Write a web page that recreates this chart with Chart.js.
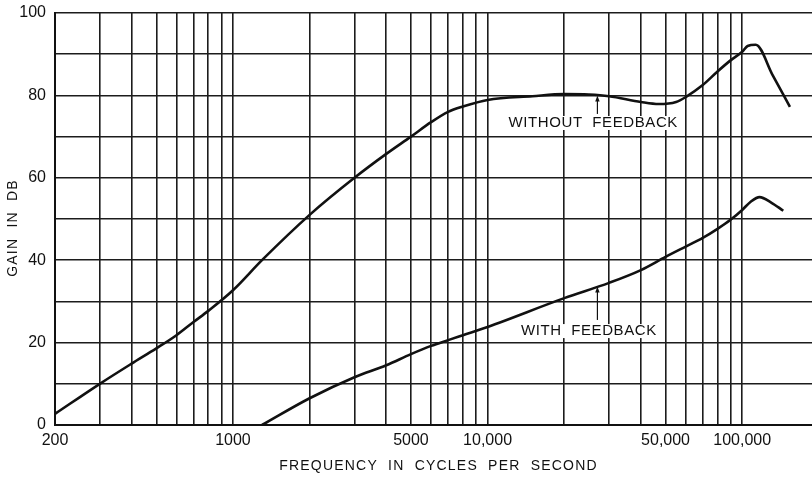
<!DOCTYPE html>
<html>
<head>
<meta charset="utf-8">
<script src="https://cdn.jsdelivr.net/npm/chart.js@4/dist/chart.umd.min.js"></script>
<style>
  html, body { margin: 0; padding: 0; background: #fff; }
  canvas { display: block; }
</style>
</head>
<body>
<canvas id="gainChart" width="812" height="482"></canvas>
<script>
// ===== DATA =====
// frequency (c/s) vs gain (db)
const noFbFreq = [200, 300, 400, 500, 600, 700, 800, 1000, 1300, 2000, 3000, 4000, 5000, 6000, 7000, 8000,
                  10000, 15000, 20000, 25000, 30000, 40000, 47000, 55000, 60000, 70000, 80000, 90000,
                  100000, 105000, 113000, 132000, 154000];
const noFbGain = [2.7, 10, 14.9, 18.6, 21.8, 25, 27.7, 32.7, 40, 51, 60, 65.8, 70, 73.5, 76, 77.3,
                  78.9, 79.8, 80.3, 80.2, 79.8, 78.4, 77.9, 78.4, 79.6, 82.5, 85.8, 88.5,
                  90.6, 92.0, 92.3, 84.8, 77.2];

const fbFreq = [1300, 2000, 3000, 4000, 5000, 6000, 7000, 8000, 10000, 20000, 30000, 40000,
                50000, 60000, 70000, 80000, 90000, 100000, 108000, 117000, 130000, 145000];
const fbGain = [0, 6.5, 11.6, 14.5, 17.2, 19.2, 20.6, 21.8, 23.8, 30.8, 34.5, 37.6,
                40.8, 43.3, 45.4, 47.6, 49.8, 52.2, 54.2, 55.3, 54.0, 52];

// vertical rulings of the log paper
const xGridValues = [200, 300, 400, 500, 600, 700, 800, 900, 1000, 2000, 3000, 4000, 5000, 6000, 7000,
                     8000, 9000, 10000, 20000, 30000, 40000, 50000, 60000, 70000, 80000, 90000, 100000];
const xLabelValues = [200, 1000, 5000, 10000, 50000, 100000];
const xLabelTexts = ['200', '1000', '5000', '10,000', '50,000', '100,000'];

const toPoints = (xs, ys) => xs.map((x, i) => ({ x: x, y: ys[i] }));

const FONT = '"Liberation Sans", Arial, sans-serif';
const INK = '#111';

// ===== TEXT ON THE PAPER (curve labels, arrows, axis titles) =====
const paperText = {
    id: 'paperText',
    afterDraw(chart) {
        const ctx = chart.ctx;
        const xs = chart.scales.x, ys = chart.scales.y;
        const area = chart.chartArea;
        const items = [
            { text: 'WITHOUT  FEEDBACK', fx: 26000, gy: 73.3, ax: 27000, ay1: 75.5, ay2: 80.0 },
            { text: 'WITH  FEEDBACK', fx: 25000, gy: 22.8, ax: 27000, ay1: 25.5, ay2: 33.6 }
        ];
        ctx.save();
        ctx.fillStyle = INK;
        ctx.strokeStyle = INK;
        ctx.textAlign = 'center';
        ctx.textBaseline = 'middle';
        ctx.font = '15px ' + FONT;
        ctx.letterSpacing = '0.6px';
        items.forEach(it => {
            const tx = xs.getPixelForValue(it.fx);
            const ty = ys.getPixelForValue(it.gy);
            const w = ctx.measureText(it.text).width;
            ctx.fillStyle = '#fff';
            ctx.fillRect(tx - w / 2 - 2, ty - 7, w + 4, 14);
            ctx.fillStyle = INK;
            ctx.fillText(it.text, tx, ty);

            const px = xs.getPixelForValue(it.ax);
            const y1 = ys.getPixelForValue(it.ay1);
            const y2 = ys.getPixelForValue(it.ay2);
            ctx.lineWidth = 1.2;
            ctx.beginPath();
            ctx.moveTo(px, y1);
            ctx.lineTo(px, y2 + 4);
            ctx.stroke();
            ctx.beginPath();
            ctx.moveTo(px, y2);
            ctx.lineTo(px - 2.2, y2 + 6);
            ctx.lineTo(px + 2.2, y2 + 6);
            ctx.closePath();
            ctx.fill();
        });

        // axis titles
        ctx.font = '14px ' + FONT;
        ctx.letterSpacing = '1.2px';
        ctx.fillText('FREQUENCY  IN  CYCLES  PER  SECOND', (area.left + area.right) / 2 + 5, area.bottom + 41);
        ctx.translate(area.left - 42, (area.top + area.bottom) / 2 + 9);
        ctx.rotate(-Math.PI / 2);
        ctx.fillText('GAIN  IN  DB', 0, 0);
        ctx.restore();
    }
};

// ===== CHART =====
const ctx = document.getElementById('gainChart').getContext('2d');

new Chart(ctx, {
    type: 'line',
    data: {
        datasets: [
            {
                label: 'Without feedback',
                data: toPoints(noFbFreq, noFbGain),
                borderColor: INK,
                borderWidth: 2.6,
                pointRadius: 0,
                cubicInterpolationMode: 'monotone',
                fill: false
            },
            {
                label: 'With feedback',
                data: toPoints(fbFreq, fbGain),
                borderColor: INK,
                borderWidth: 2.6,
                pointRadius: 0,
                cubicInterpolationMode: 'monotone',
                fill: false
            }
        ]
    },
    options: {
        responsive: false,
        animation: false,
        devicePixelRatio: 1,
        layout: { padding: { top: 13, right: 0, bottom: 0, left: 0 } },
        plugins: {
            legend: { display: false },
            tooltip: { enabled: false }
        },
        scales: {
            x: {
                type: 'logarithmic',
                min: 200,
                max: 188000,
                afterBuildTicks: scale => {
                    scale.ticks = xGridValues.map(v => ({ value: v }));
                },
                afterFit: scale => {
                    scale.height = 57;
                    scale.paddingLeft = 0;
                    scale.paddingRight = 0;
                },
                ticks: {
                    autoSkip: false,
                    maxRotation: 0,
                    padding: 6,
                    color: INK,
                    font: { family: FONT, size: 16 },
                    callback: v => {
                        const i = xLabelValues.indexOf(v);
                        return i >= 0 ? xLabelTexts[i] : '';
                    }
                },
                grid: { color: '#1c1c1c', lineWidth: 1.6, drawTicks: false },
                border: { color: INK, width: 2 }
            },
            y: {
                min: 0,
                max: 100,
                afterFit: scale => {
                    scale.width = 55;
                    scale.paddingTop = 0;
                    scale.paddingBottom = 0;
                },
                ticks: {
                    stepSize: 10,
                    padding: 9,
                    color: INK,
                    font: { family: FONT, size: 16 },
                    callback: v => (v % 20 === 0 ? v : '')
                },
                grid: { color: '#1c1c1c', lineWidth: 1.6, drawTicks: false },
                border: { color: INK, width: 2 }
            }
        }
    },
    plugins: [paperText]
});
</script>
</body>
</html>
